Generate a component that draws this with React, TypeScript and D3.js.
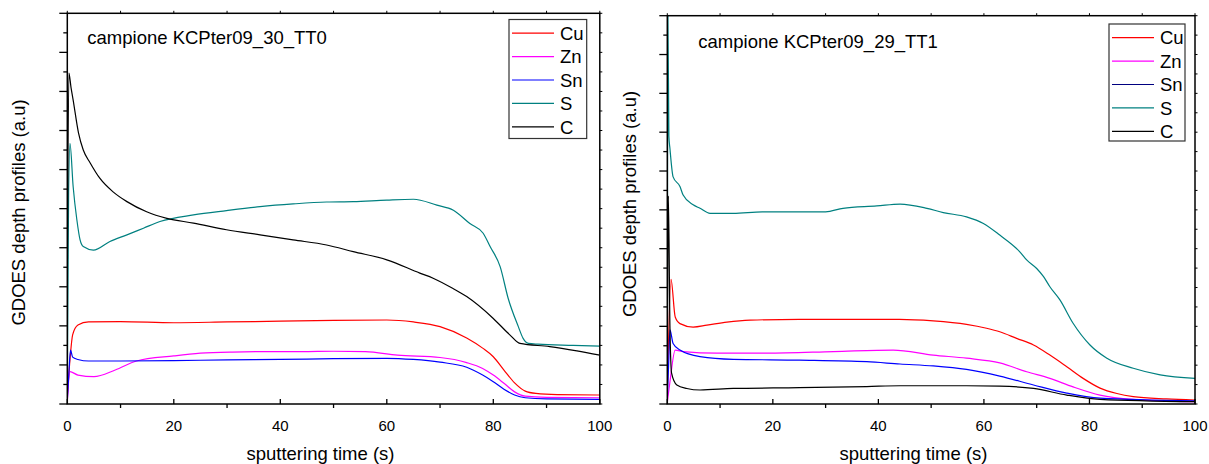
import React from "react";
import * as d3 from "d3";

type Pt = [number, number];

// sputtering time (s) vs intensity (a.u.)
const seriesNames = ["Cu", "Zn", "Sn", "S", "C"];
const xTicks = [0, 20, 40, 60, 80, 100];

// campione KCPter09_30_TT0
const tt0Cu: Pt[] = [[0, 0.2], [0.5, 1.13], [1, 1.77], [2, 2.02], [4, 2.1], [10, 2.11], [20, 2.08], [30, 2.1], [40, 2.12], [50, 2.14], [60, 2.15], [65, 2.1], [70, 1.98], [75, 1.69], [78, 1.43], [80, 1.21], [82, 0.87], [84, 0.54], [86, 0.33], [88, 0.27], [92, 0.24], [100, 0.23]];
const tt0Zn: Pt[] = [[0, 0.05], [0.5, 0.83], [2, 0.74], [5, 0.7], [9, 0.87], [13, 1.1], [20, 1.23], [25, 1.3], [31, 1.33], [38, 1.34], [44, 1.34], [50, 1.35], [56, 1.34], [62, 1.25], [70, 1.19], [75, 1.06], [78, 0.91], [80, 0.74], [82, 0.53], [84, 0.31], [86, 0.2], [90, 0.17], [100, 0.16]];
const tt0Sn: Pt[] = [[0, 0.1], [0.3, 0.8], [0.6, 1.38], [1, 1.2], [2, 1.14], [4, 1.1], [10, 1.1], [20, 1.11], [30, 1.13], [40, 1.14], [50, 1.16], [60, 1.17], [65, 1.14], [70, 1.07], [75, 0.94], [78, 0.74], [80, 0.57], [82, 0.38], [84, 0.23], [86, 0.16], [90, 0.13], [100, 0.12]];
const tt0S: Pt[] = [[0, 0.3], [0.25, 5.5], [0.5, 6.67], [1.1, 5.56], [1.8, 4.71], [2.4, 4.2], [3, 4.03], [4.9, 3.94], [8, 4.16], [11.2, 4.33], [14.3, 4.5], [17.4, 4.67], [23.7, 4.84], [29.9, 4.95], [36.2, 5.05], [42.4, 5.12], [48.7, 5.17], [53.7, 5.18], [60, 5.22], [65, 5.24], [69.4, 5.09], [72.5, 4.96], [75.6, 4.62], [78.1, 4.37], [79.4, 4.03], [81.3, 3.51], [82.8, 2.7], [84.7, 1.98], [85.6, 1.68], [86.6, 1.55], [88.4, 1.53], [95, 1.5], [100, 1.48]];
const tt0C: Pt[] = [[0, 3], [0.3, 8.47], [0.7, 8.1], [1.1, 7.78], [2.1, 6.94], [3, 6.5], [4.3, 6.17], [6.1, 5.78], [8.6, 5.43], [11.2, 5.18], [14.9, 4.92], [18.7, 4.75], [23.7, 4.63], [29.9, 4.46], [36.2, 4.33], [42.4, 4.2], [48.7, 4.07], [53.7, 3.9], [60, 3.69], [66.2, 3.35], [68.7, 3.22], [72.5, 2.95], [75, 2.75], [80, 2.19], [83.1, 1.77], [85, 1.55], [90.6, 1.47], [95.7, 1.36], [100, 1.25]];

// campione KCPter09_29_TT1
const tt1Cu: Pt[] = [[0, 0.2], [0.7, 3.21], [1.5, 2.24], [2.4, 2.07], [4.9, 1.98], [7.5, 2.03], [11.3, 2.11], [15.7, 2.16], [25, 2.18], [38, 2.18], [44, 2.18], [50.4, 2.14], [56.7, 2.05], [60.5, 1.95], [63, 1.86], [66.2, 1.69], [69.4, 1.52], [72.5, 1.26], [75.7, 0.96], [78.8, 0.66], [82, 0.41], [85.2, 0.27], [88.3, 0.19], [94.6, 0.13], [100, 0.1]];
const tt1Zn: Pt[] = [[0, 0.05], [0.5, 0.57], [1.5, 1.39], [3, 1.35], [9.4, 1.31], [18.8, 1.31], [31.5, 1.35], [42.8, 1.39], [50.4, 1.26], [56.7, 1.18], [63, 1.06], [68.1, 0.83], [72.5, 0.66], [76.9, 0.44], [82, 0.23], [88.3, 0.12], [100, 0.06]];
const tt1Sn: Pt[] = [[0, 0.1], [0.3, 1.2], [0.5, 1.91], [1.1, 1.56], [2.4, 1.39], [6.2, 1.22], [12.5, 1.15], [25, 1.13], [37.8, 1.09], [44.1, 1.03], [50.4, 0.98], [56.7, 0.89], [63, 0.72], [69.4, 0.49], [75.7, 0.28], [82, 0.15], [100, 0.08]];
const tt1S: Pt[] = [[0, 0.3], [0.12, 10], [0.3, 6.9], [0.5, 6.58], [1.1, 5.85], [2.4, 5.6], [3, 5.38], [4.9, 5.13], [6.2, 5.04], [8.1, 4.91], [12.5, 4.91], [18, 4.95], [24, 4.95], [30, 4.95], [33.3, 5.04], [39.7, 5.1], [44.1, 5.15], [49.2, 5.04], [52.3, 4.93], [56.7, 4.82], [59.9, 4.65], [63, 4.35], [66.8, 3.92], [68.1, 3.71], [70, 3.49], [71.3, 3.28], [72.5, 3.02], [74.4, 2.68], [76.9, 2.08], [80.1, 1.52], [83.3, 1.18], [88.3, 0.92], [93.4, 0.75], [100, 0.66]];
const tt1C: Pt[] = [[0, 0.1], [0.2, 5.36], [0.5, 2.0], [0.8, 0.8], [1.8, 0.49], [3.7, 0.4], [6.2, 0.36], [12.5, 0.4], [25, 0.42], [37.8, 0.45], [44.1, 0.47], [56.7, 0.47], [63, 0.46], [69.4, 0.4], [75.7, 0.23], [82, 0.12], [100, 0.06]];

const FONT = "'Liberation Sans', Arial, sans-serif";
const lineColors = ["#ff0000", "#ff00ff", "#0000ff", "#008080", "#000000"];

type PanelProps = {
  id: string;
  title: string;
  series: Pt[][];
  legendColors: string[];
  x0: number;
  x1: number;
  yTop: number;
  yBottom: number;
  titleX: number;
  titleY: number;
  legend: { x: number; y: number; w: number; h: number };
  yLabelX: number;
  yLabelY: number;
  xLabelX: number;
};

const Panel = (p: PanelProps) => {
  const x = d3.scaleLinear().domain([0, 100]).range([p.x0, p.x1]);
  const y = d3.scaleLinear().domain([0, 10]).range([p.yBottom, p.yTop]);
  const line = d3
    .line<Pt>()
    .x((d) => x(d[0]))
    .y((d) => y(d[1]))
    .curve(d3.curveMonotoneX);

  const yTickVals = d3.range(0, 10.01, 0.5);
  const xMinor = d3.range(0, 100.1, 10);

  return (
    <g>
      <defs>
        <clipPath id={p.id}>
          <rect x={p.x0} y={p.yTop} width={p.x1 - p.x0} height={p.yBottom - p.yTop} />
        </clipPath>
      </defs>

      {/* curves */}
      <g clipPath={`url(#${p.id})`}>
        {p.series.map((s, i) => (
          <path key={i} d={line(s) || ""} fill="none" stroke={lineColors[i]} strokeWidth={1.2} />
        ))}
      </g>

      {/* left axis ticks, outward */}
      {yTickVals.map((v) => (
        <line
          key={"l" + v}
          x1={p.x0}
          x2={p.x0 - (Number.isInteger(v) ? 8 : 4)}
          y1={y(v)}
          y2={y(v)}
          stroke="#000"
          strokeWidth={1.3}
        />
      ))}
      {/* right axis small ticks */}
      {yTickVals.map((v) => (
        <line key={"r" + v} x1={p.x1} x2={p.x1 + 2.5} y1={y(v)} y2={y(v)} stroke="#000" strokeWidth={1} />
      ))}
      {/* top axis small ticks */}
      {xMinor.map((t) => (
        <line key={"t" + t} x1={x(t)} x2={x(t)} y1={p.yTop} y2={p.yTop - 2.5} stroke="#000" strokeWidth={1} />
      ))}
      {/* bottom axis ticks: majors in, minors out */}
      {xMinor.map((t) =>
        xTicks.includes(t) ? (
          <line key={"b" + t} x1={x(t)} x2={x(t)} y1={p.yBottom} y2={p.yBottom - 5} stroke="#000" strokeWidth={1.3} />
        ) : (
          <line key={"b" + t} x1={x(t)} x2={x(t)} y1={p.yBottom} y2={p.yBottom + 4} stroke="#000" strokeWidth={1.3} />
        )
      )}

      {/* frame */}
      <rect
        x={p.x0}
        y={p.yTop}
        width={p.x1 - p.x0}
        height={p.yBottom - p.yTop}
        fill="none"
        stroke="#000"
        strokeWidth={1.5}
      />

      {/* tick labels */}
      {xTicks.map((t) => (
        <text key={"tl" + t} x={x(t)} y={p.yBottom + 27} textAnchor="middle" fontSize={15} fontFamily={FONT} fill="#000">
          {t}
        </text>
      ))}

      {/* axis titles */}
      <text x={p.xLabelX} y={459.5} textAnchor="middle" fontSize={18.5} fontFamily={FONT} fill="#000">
        sputtering time (s)
      </text>
      <text
        transform={`translate(${p.yLabelX},${p.yLabelY}) rotate(-90)`}
        textAnchor="middle"
        fontSize={18.5}
        fontFamily={FONT}
        fill="#000"
      >
        GDOES depth profiles (a.u)
      </text>

      {/* sample label */}
      <text x={p.titleX} y={p.titleY} fontSize={18.5} fontFamily={FONT} fill="#000">
        {p.title}
      </text>

      {/* legend */}
      <rect
        x={p.legend.x}
        y={p.legend.y}
        width={p.legend.w}
        height={p.legend.h}
        fill="#fff"
        stroke="#333"
        strokeWidth={1.2}
      />
      {seriesNames.map((name, i) => {
        const ly = p.legend.y + 13.7 + i * 23.4;
        return (
          <g key={name}>
            <line x1={p.legend.x + 3} x2={p.legend.x + 45} y1={ly} y2={ly} stroke={p.legendColors[i]} strokeWidth={1.2} />
            <text x={p.legend.x + 51} y={ly + 6.7} fontSize={18.5} fontFamily={FONT} fill="#000">
              {name}
            </text>
          </g>
        );
      })}
    </g>
  );
};

export default function App() {
  return (
    <svg
      width={1209}
      height={464}
      style={{ position: "absolute", left: 0, top: 0, background: "#fff" }}
    >
      <Panel
        id="clipTT0"
        title="campione KCPter09_30_TT0"
        series={[tt0Cu, tt0Zn, tt0Sn, tt0S, tt0C]}
        legendColors={lineColors}
        x0={67.3}
        x1={599.8}
        yTop={13.3}
        yBottom={404}
        titleX={87.3}
        titleY={44.3}
        legend={{ x: 509, y: 19.5, w: 77.7, h: 119 }}
        yLabelX={25}
        yLabelY={212.5}
        xLabelX={320.5}
      />
      <Panel
        id="clipTT1"
        title="campione KCPter09_29_TT1"
        series={[tt1Cu, tt1Zn, tt1Sn, tt1S, tt1C]}
        legendColors={["#ff0000", "#ff00ff", "#000080", "#008080", "#000000"]}
        x0={667.3}
        x1={1195}
        yTop={15.7}
        yBottom={404}
        titleX={698.3}
        titleY={47.7}
        legend={{ x: 1109, y: 24, w: 76, h: 117 }}
        yLabelX={635.5}
        yLabelY={204}
        xLabelX={913.5}
      />
    </svg>
  );
}
